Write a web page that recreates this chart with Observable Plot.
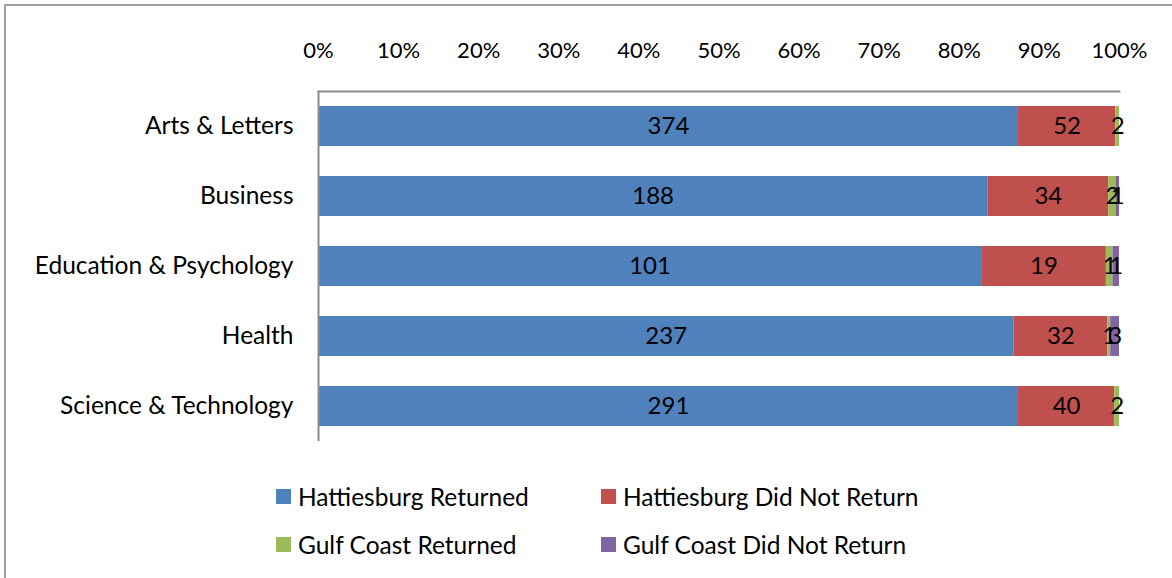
<!DOCTYPE html>
<html>
<head>
<meta charset="utf-8">
<script src="https://cdn.jsdelivr.net/npm/d3@7"></script>
<script src="https://cdn.jsdelivr.net/npm/@observablehq/plot@0.6"></script>
<style>
  html, body { margin: 0; padding: 0; background: #fff; }
  body { width: 1172px; height: 578px; position: relative; overflow: hidden; font-family: Lato, "Open Sans", sans-serif; }
  #frame { position: absolute; left: 4px; top: 4px; width: 1300px; height: 700px; border-top: 2px solid #a0a0a0; border-left: 2px solid #a0a0a0; box-sizing: border-box; }
  #chart { position: absolute; left: 0; top: 0; }
  .legend { position: absolute; font-size: 24.5px; color: #000; display: flex; align-items: center; white-space: nowrap; }
  .legend .sw { width: 15px; height: 15px; margin-right: 7px; }
</style>
</head>
<body>
<div id="frame"></div>
<div id="chart"></div>
<div id="legend"></div>
<script>
const categories = ["Arts & Letters", "Business", "Education & Psychology", "Health", "Science & Technology"];
const seriesNames = ["Hattiesburg Returned", "Hattiesburg Did Not Return", "Gulf Coast Returned", "Gulf Coast Did Not Return"];
const hattiesburgReturned = [374, 188, 101, 237, 291];
const hattiesburgDidNotReturn = [52, 34, 19, 32, 40];
const gulfCoastReturned = [2, 2, 1, 1, 2];
const gulfCoastDidNotReturn = [0, 1, 1, 3, 0];
const colors = ["#4F81BD", "#C0504D", "#9BBB59", "#8064A2"];
const xTicks = [0, 0.1, 0.2, 0.3, 0.4, 0.5, 0.6, 0.7, 0.8, 0.9, 1];

const seriesValues = [hattiesburgReturned, hattiesburgDidNotReturn, gulfCoastReturned, gulfCoastDidNotReturn];
const data = [];
categories.forEach((c, i) => {
  seriesNames.forEach((s, j) => {
    data.push({category: c, series: s, value: seriesValues[j][i]});
  });
});

const chart = Plot.plot({
  width: 1172,
  height: 578,
  marginLeft: 318,
  marginRight: 53,
  marginTop: 91,
  marginBottom: 137,
  style: {fontFamily: "Lato, 'Open Sans', sans-serif", fontSize: "22px", color: "#000", background: "transparent"},
  x: {domain: [0, 1], axis: null, label: null},
  y: {domain: categories, paddingInner: 0.43, paddingOuter: 0.215, axis: null, label: null},
  color: {domain: seriesNames, range: colors},
  marks: [
    Plot.barX(data, Plot.stackX({offset: "normalize", order: null, x: "value", y: "category", fill: "series"})),
    Plot.textX(data, Plot.stackX({offset: "normalize", order: null, x: "value", y: "category", z: "series", text: "value", filter: d => d.value > 0, fill: "#000", fontSize: 24})),
    Plot.axisX({anchor: "top", ticks: xTicks, tickFormat: d3.format(".0%"), tickSize: 0, tickPadding: 34, fontSize: 22, fill: "#000", label: null}),
    Plot.axisY({anchor: "left", tickSize: 0, tickPadding: 25, fontSize: 24.5, fill: "#000", label: null}),
    Plot.ruleX([0], {stroke: "#8c8c8c", strokeWidth: 2}),
    Plot.frame({anchor: "top", stroke: "#8c8c8c", strokeWidth: 2})
  ]
});
document.getElementById("chart").appendChild(chart);

const legendPos = [[276, 496], [601, 496], [276, 544], [601, 544]];
const legend = document.getElementById("legend");
seriesNames.forEach((s, i) => {
  const el = document.createElement("div");
  el.className = "legend";
  el.style.left = legendPos[i][0] + "px";
  el.style.top = (legendPos[i][1] - 15) + "px";
  el.style.height = "30px";
  el.innerHTML = `<span class="sw" style="background:${colors[i]}"></span><span>${s}</span>`;
  legend.appendChild(el);
});
</script>
</body>
</html>
